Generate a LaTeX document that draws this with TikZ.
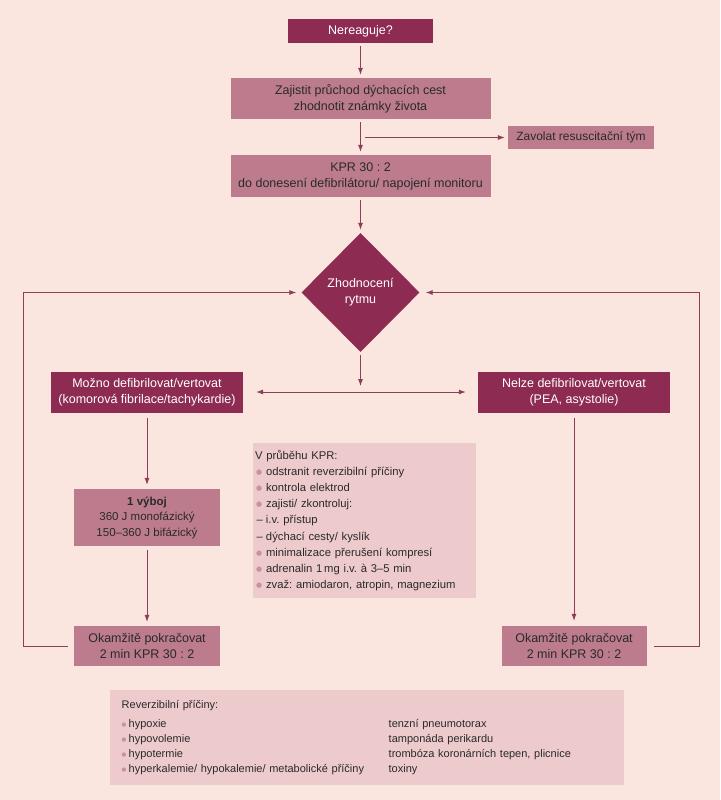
\documentclass[tikz,border=0pt]{standalone}
\usepackage{fontspec}
\setmainfont{Liberation Sans}
\newfontfamily\symboly{DejaVu Sans}
\usetikzlibrary{shapes.geometric,arrows.meta}
\definecolor{pozadi}{HTML}{FAE6DE}
\definecolor{tmava}{HTML}{8E2B52}
\definecolor{stredni}{HTML}{BC7C8D}
\definecolor{svetla}{HTML}{EDCACC}
\definecolor{cara}{HTML}{8E3D5A}
\definecolor{tecka}{HTML}{C9919F}
\definecolor{pismo}{HTML}{2A2A2A}
\newcommand{\bod}{\makebox[11pt][l]{\hspace{1pt}\raisebox{1pt}{\textcolor{tecka}{\symboly\fontsize{7}{7}\selectfont ●}}}}
\newcommand{\pomlc}{\makebox[11pt][l]{\hspace{1.5pt}–}}
\newcommand{\bodm}{\makebox[7pt][l]{\raisebox{1pt}{\textcolor{tecka}{\symboly\fontsize{5.5}{5.5}\selectfont ●}}}}
\frenchspacing
\begin{document}
\begin{tikzpicture}[x=1pt,y=-1pt,>={Latex[length=7pt,width=5pt]},
		tmavy/.style={fill=tmava,text=white,font=\fontsize{12.5}{16}\selectfont,align=center,inner sep=0pt},
		stredni box/.style={fill=stredni,text=pismo,font=\fontsize{12.5}{16}\selectfont,align=center,inner sep=0pt},
		svetly box/.style={fill=svetla,text=pismo,align=left,inner ysep=0pt},
		sipka/.style={->,draw=cara,line width=0.8pt,shorten <=3pt,shorten >=3pt}]
	\fill[pozadi] (0,0) rectangle (720,800);
	% hlavni osa
	\node[tmavy,minimum width=145pt,minimum height=24pt] (nereaguje) at (360.5,31) {Nereaguje?};
	\node[stredni box,minimum width=260pt,minimum height=41pt] (zajistit) at (360.5,98.5) {Zajistit průchod dýchacích cest\\zhodnotit známky života};
	\node[stredni box,minimum width=146pt,minimum height=23pt,font=\fontsize{12}{14}\selectfont] (zavolat) at (581,137.5) {Zavolat resuscitační tým};
	\node[stredni box,minimum width=260pt,minimum height=42pt] (kpr) at (360.5,176) {KPR 30 : 2\\do donesení defibrilátoru/ napojení monitoru};
	\node[tmavy,diamond,minimum width=118pt,minimum height=119pt] (rytmus) at (360.5,292.5) {Zhodnocení\\rytmu};
	% vetve
	\node[tmavy,minimum width=192pt,minimum height=41pt] (mozno) at (147,392) {Možno defibrilovat/vertovat\\(komorová fibrilace/tachykardie)};
	\node[tmavy,minimum width=192pt,minimum height=41pt] (nelze) at (574,392) {Nelze defibrilovat/vertovat\\(PEA, asystolie)};
	\node[stredni box,minimum width=146pt,minimum height=57pt,font=\fontsize{11.5}{15.5}\selectfont] (vyboj) at (147,517.5) {\textbf{1 výboj}\\360 J monofázický\\150–360 J bifázický};
	\node[stredni box,minimum width=146pt,minimum height=40pt] (okamziteL) at (147,646) {Okamžitě pokračovat\\2 min KPR 30 : 2};
	\node[stredni box,minimum width=145pt,minimum height=40pt] (okamziteR) at (574,646) {Okamžitě pokračovat\\2 min KPR 30 : 2};
	% informacni boxy
	\node[svetly box,minimum width=223pt,minimum height=155pt,inner xsep=2pt,text width=219pt,font=\fontsize{11.25}{16.2}\selectfont] (prubeh) at (364.5,520.5) {V průběhu KPR:\\
		\bod odstranit reverzibilní příčiny\\
		\bod kontrola elektrod\\
		\bod zajisti/ zkontroluj:\\
		\pomlc i.v. přístup\\
		\pomlc dýchací cesty/ kyslík\\
		\bod minimalizace přerušení kompresí\\
		\bod adrenalin 1\,mg i.v. à 3–5 min\\
		\bod zvaž: amiodaron, atropin, magnezium};
	\node[svetly box,minimum width=514pt,minimum height=95pt,inner xsep=11.7pt,text width=490.6pt,font=\fontsize{11}{15}\selectfont] (priciny) at (367,737.5) {Reverzibilní příčiny:\\[4pt]
		\makebox[267pt][l]{\bodm hypoxie}tenzní pneumotorax\\
		\makebox[267pt][l]{\bodm hypovolemie}tamponáda perikardu\\
		\makebox[267pt][l]{\bodm hypotermie}trombóza koronárních tepen, plicnice\\
		\makebox[267pt][l]{\bodm hyperkalemie/ hypokalemie/ metabolické příčiny}toxiny};
	% body spojnic
	\coordinate (odbocka) at (360.5,137.5);
	\coordinate (rozcesti) at (360.5,392);
	\coordinate (smyckaL) at (23,646);
	\coordinate (smyckaR) at (699,646);
	% spojnice
	\draw[sipka] (nereaguje.south) -- (zajistit.north);
	\draw[sipka] (zajistit.south) -- (kpr.north);
	\draw[sipka,shorten <=4pt] (odbocka) -- (zavolat.west);
	\draw[sipka] (kpr.south) -- (rytmus.north);
	\draw[sipka,shorten >=6pt] (rytmus.south) -- (rozcesti);
	\draw[sipka,<->,shorten <=13pt,shorten >=12pt] (mozno.east) -- (nelze.west);
	\draw[sipka,shorten <=5pt,shorten >=4pt] (mozno.south) -- (vyboj.north);
	\draw[sipka,shorten <=4pt,shorten >=4pt] (vyboj.south) -- (okamziteL.north);
	\draw[sipka,shorten <=5pt,shorten >=5pt] (nelze.south) -- (okamziteR.north);
	\draw[sipka,shorten <=6pt,shorten >=5pt] (okamziteL.west) -- (smyckaL) |- (rytmus.west);
	\draw[sipka,shorten <=7pt,shorten >=6pt] (okamziteR.east) -- (smyckaR) |- (rytmus.east);
\end{tikzpicture}
\end{document}
